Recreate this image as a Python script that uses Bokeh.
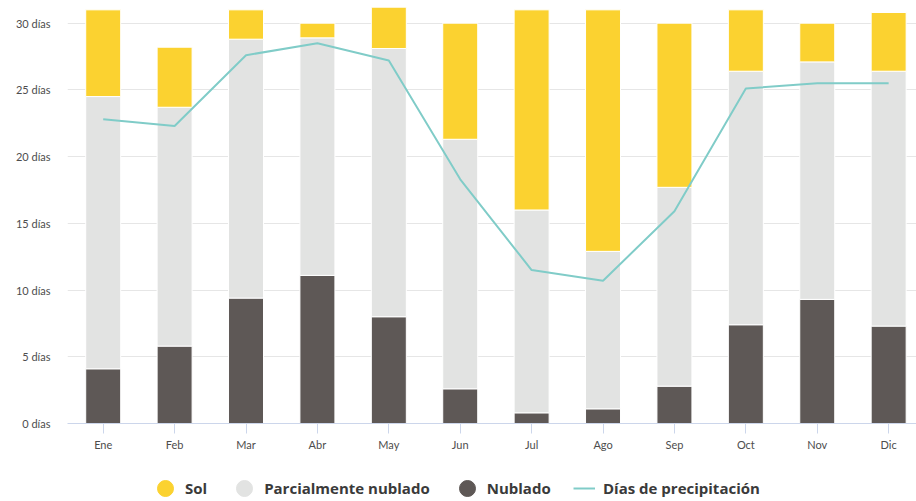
from bokeh.plotting import figure
from bokeh.layouts import column
from bokeh.models import (Range1d, FixedTicker, PrintfTickFormatter, Legend,
                          LegendItem, ColumnDataSource)
from bokeh.embed import file_html
from bokeh.resources import INLINE

months = ["Ene", "Feb", "Mar", "Abr", "May", "Jun", "Jul", "Ago", "Sep", "Oct", "Nov", "Dic"]
nublado = [4.1, 5.8, 9.4, 11.1, 8.0, 2.6, 0.8, 1.1, 2.8, 7.4, 9.3, 7.3]
parcial = [20.4, 17.9, 19.4, 17.8, 20.1, 18.7, 15.2, 11.8, 14.9, 19.0, 17.8, 19.1]
sol = [6.5, 4.5, 2.2, 1.1, 3.1, 8.7, 15.0, 18.1, 12.3, 4.6, 2.9, 4.4]
precip = [22.8, 22.3, 27.6, 28.5, 27.2, 18.3, 11.5, 10.7, 15.9, 25.1, 25.5, 25.5]
y_ticks = [0, 5, 10, 15, 20, 25, 30]
series_names = ["Sol", "Parcialmente nublado", "Nublado", "Días de precipitación"]

C_SOL = "#FBD230"
C_PAR = "#E2E3E2"
C_NUB = "#5E5856"
C_PRE = "#80CCC8"

x = list(range(len(months)))
src = ColumnDataSource(dict(x=x, nublado=nublado, parcial=parcial, sol=sol, precip=precip))

p = figure(width=916, height=455, output_backend="svg", toolbar_location=None,
           x_range=Range1d(-0.5, 11.39), y_range=Range1d(0, 31.7),
           min_border_left=67, min_border_right=0, min_border_top=0, min_border_bottom=32)
p.outline_line_color = None

p.vbar_stack(["nublado", "parcial", "sol"], x="x", width=0.49, source=src,
             color=[C_NUB, C_PAR, C_SOL], line_color="white", line_width=1)
p.line("x", "precip", source=src, line_color=C_PRE, line_width=2)

# axes
p.xgrid.visible = False
p.ygrid.grid_line_color = "#E6E6E6"
p.ygrid.grid_line_width = 1

p.xaxis.ticker = FixedTicker(ticks=x)
p.xaxis.major_label_overrides = {i: m for i, m in enumerate(months)}
p.xaxis.axis_line_color = "#CCD6EB"
p.xaxis.major_tick_line_color = "#CCD6EB"
p.xaxis.major_tick_out = 10
p.xaxis.major_tick_in = 0
p.xaxis.minor_tick_line_color = None
p.xaxis.major_label_text_font = "Lato"
p.xaxis.major_label_text_font_size = "11px"
p.xaxis.major_label_text_color = "#4D4D4D"
p.xaxis.major_label_standoff = 4

p.yaxis.ticker = FixedTicker(ticks=y_ticks)
p.yaxis.formatter = PrintfTickFormatter(format="%d días")
p.yaxis.axis_line_color = None
p.yaxis.major_tick_line_color = None
p.yaxis.minor_tick_line_color = None
p.yaxis.major_label_text_font = "Lato"
p.yaxis.major_label_text_font_size = "11px"
p.yaxis.major_label_text_color = "#4D4D4D"
p.yaxis.major_label_standoff = 11

# legend strip (legend proxies hold no visible data)
p2 = figure(width=916, height=46, output_backend="svg", toolbar_location=None,
            x_range=Range1d(0, 1), y_range=Range1d(0, 1),
            x_axis_location=None, y_axis_location=None, min_border=0)
p2.outline_line_color = None
p2.grid.visible = False

nan = float("nan")
s_sol = p2.scatter(x=[nan], y=[nan], marker="circle", color=C_SOL)
s_par = p2.scatter(x=[nan], y=[nan], marker="circle", color=C_PAR)
s_nub = p2.scatter(x=[nan], y=[nan], marker="circle", color=C_NUB)
l_pre = p2.line(x=[nan, nan], y=[nan, nan], line_color=C_PRE, line_width=2)

common = dict(orientation="horizontal", padding=0, margin=0,
              background_fill_alpha=0, border_line_color=None,
              label_text_font="Open Sans", label_text_font_style="bold",
              label_text_font_size="15px", label_text_color="#3A3A3A")

leg1 = Legend(items=[LegendItem(label=series_names[0], renderers=[s_sol]),
                     LegendItem(label=series_names[1], renderers=[s_par]),
                     LegendItem(label=series_names[2], renderers=[s_nub])],
              location=(78, -7), glyph_width=40, glyph_height=40,
              label_standoff=0, spacing=17, **common)
leg2 = Legend(items=[LegendItem(label=series_names[3], renderers=[l_pre])],
              location=(506, 3), glyph_width=22, glyph_height=20,
              label_standoff=8, spacing=0, **common)
p2.add_layout(leg1)
p2.add_layout(leg2)

open("out.html", "w").write(file_html(column(p, p2, spacing=0), INLINE))
